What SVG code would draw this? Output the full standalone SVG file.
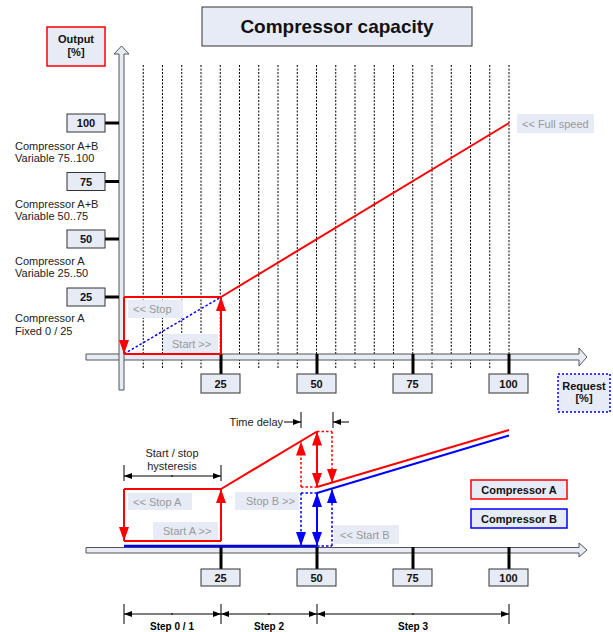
<svg xmlns="http://www.w3.org/2000/svg" width="613" height="632" viewBox="0 0 613 632">
<defs>
<style>
text{font-family:"Liberation Sans",Arial,sans-serif;}
.box{fill:#e6ebf5;stroke:#333;stroke-width:1;}
.num{font-size:11px;font-weight:bold;fill:#111;text-anchor:middle;}
.lbl{font-size:11px;fill:#222;}
.gray{fill:#e6ebf5;}
.gt{font-size:11px;fill:#999;}
.axis{fill:#e6ebf5;stroke:#555;stroke-width:1;}
.tick{stroke:#000;stroke-width:3;}
.grid{stroke:#000;stroke-width:1;stroke-dasharray:2 1.5;}
.red{stroke:#f00;stroke-width:2;fill:none;}
.redd{stroke:#f00;stroke-width:1.5;fill:none;stroke-dasharray:2.5 2;}
.blue{stroke:#00f;stroke-width:2;fill:none;}
.blued{stroke:#00f;stroke-width:1.5;fill:none;stroke-dasharray:2.5 2;}
.dim{stroke:#000;stroke-width:1;fill:none;}
.bold{font-weight:bold;}
</style>
<marker id="ar" markerUnits="userSpaceOnUse" markerWidth="14" markerHeight="10" refX="14" refY="5" orient="auto-start-reverse"><path d="M0,0 L14,5 L0,10 z" fill="#f00"/></marker>
<marker id="ab" markerUnits="userSpaceOnUse" markerWidth="14" markerHeight="10" refX="14" refY="5" orient="auto-start-reverse"><path d="M0,0 L14,5 L0,10 z" fill="#00f"/></marker>
<marker id="ak" markerUnits="userSpaceOnUse" markerWidth="8" markerHeight="6" refX="8" refY="3" orient="auto-start-reverse"><path d="M0,0 L8,3 L0,6 z" fill="#000"/></marker>
</defs>

<g id="title">
<rect x="202" y="7" width="270" height="39" class="box"/>
<text x="337" y="33" font-size="19" font-weight="bold" text-anchor="middle" fill="#111">Compressor capacity</text>
</g>

<g id="output-label">
<rect x="47" y="27" width="58" height="39" fill="#e6ebf5" stroke="#f00" stroke-width="1.5"/>
<text x="76" y="43" class="num">Output</text>
<text x="76" y="56" class="num">[%]</text>
</g>

<g id="request-label">
<rect x="558" y="374" width="52" height="38" fill="#e6ebf5" stroke="#00f" stroke-width="1.5" stroke-dasharray="2 2"/>
<text x="584" y="390" class="num">Request</text>
<text x="584" y="402" class="num">[%]</text>
</g>

<g id="grid">
<line x1="143.25" y1="65" x2="143.25" y2="368" class="grid"/>
<line x1="162.5" y1="65" x2="162.5" y2="368" class="grid"/>
<line x1="181.75" y1="65" x2="181.75" y2="368" class="grid"/>
<line x1="201" y1="65" x2="201" y2="368" class="grid"/>
<line x1="220.25" y1="65" x2="220.25" y2="368" class="grid"/>
<line x1="239.5" y1="65" x2="239.5" y2="368" class="grid"/>
<line x1="258.75" y1="65" x2="258.75" y2="368" class="grid"/>
<line x1="278" y1="65" x2="278" y2="368" class="grid"/>
<line x1="297.25" y1="65" x2="297.25" y2="368" class="grid"/>
<line x1="316.5" y1="65" x2="316.5" y2="368" class="grid"/>
<line x1="335.75" y1="65" x2="335.75" y2="368" class="grid"/>
<line x1="355" y1="65" x2="355" y2="368" class="grid"/>
<line x1="374.25" y1="65" x2="374.25" y2="368" class="grid"/>
<line x1="393.5" y1="65" x2="393.5" y2="368" class="grid"/>
<line x1="412.75" y1="65" x2="412.75" y2="368" class="grid"/>
<line x1="432" y1="65" x2="432" y2="368" class="grid"/>
<line x1="451.25" y1="65" x2="451.25" y2="368" class="grid"/>
<line x1="470.5" y1="65" x2="470.5" y2="368" class="grid"/>
<line x1="489.75" y1="65" x2="489.75" y2="368" class="grid"/>
<line x1="509" y1="65" x2="509" y2="368" class="grid"/>
</g>

<g id="x-axis-top">
<polygon points="86,354 579,354 579,348 587,357 579,366 579,360 86,360" class="axis"/>
<line x1="221" y1="354" x2="221" y2="374" class="tick"/>
<line x1="317" y1="354" x2="317" y2="374" class="tick"/>
<line x1="413" y1="354" x2="413" y2="374" class="tick"/>
<line x1="509" y1="354" x2="509" y2="374" class="tick"/>
<rect x="201" y="374" width="39" height="19" class="box"/><text x="220.5" y="387.5" class="num">25</text>
<rect x="297" y="374" width="39" height="19" class="box"/><text x="316.5" y="387.5" class="num">50</text>
<rect x="393" y="374" width="39" height="19" class="box"/><text x="412.5" y="387.5" class="num">75</text>
<rect x="489" y="374" width="39" height="19" class="box"/><text x="508.5" y="387.5" class="num">100</text>
</g>

<g id="y-axis">
<polygon points="119,390 119,54 114,54 121.5,46 129,54 124,54 124,390" class="axis"/>
<line x1="105" y1="123" x2="119" y2="123" class="tick"/>
<line x1="105" y1="181.5" x2="119" y2="181.5" class="tick"/>
<line x1="105" y1="239" x2="119" y2="239" class="tick"/>
<line x1="105" y1="297" x2="119" y2="297" class="tick"/>
<rect x="67" y="114" width="38" height="18" class="box"/><text x="86" y="127" class="num">100</text>
<rect x="67" y="172.5" width="38" height="18" class="box"/><text x="86" y="185.5" class="num">75</text>
<rect x="67" y="230" width="38" height="18" class="box"/><text x="86" y="243" class="num">50</text>
<rect x="67" y="288" width="38" height="18" class="box"/><text x="86" y="301" class="num">25</text>
<text x="15" y="150" class="lbl">Compressor A+B</text>
<text x="15" y="162" class="lbl">Variable 75..100</text>
<text x="15" y="207.5" class="lbl">Compressor A+B</text>
<text x="15" y="219.5" class="lbl">Variable 50..75</text>
<text x="15" y="264.5" class="lbl">Compressor A</text>
<text x="15" y="277" class="lbl">Variable 25..50</text>
<text x="15" y="322" class="lbl">Compressor A</text>
<text x="15" y="335" class="lbl">Fixed 0 / 25</text>
</g>

<g id="top-labels">
<rect x="128" y="300" width="55" height="18" class="gray"/><text x="133" y="313" class="gt">&lt;&lt; Stop</text>
<rect x="163" y="334" width="55" height="19" class="gray"/><text x="172" y="347.5" class="gt">Start &gt;&gt;</text>
<rect x="517" y="114" width="77" height="19" class="gray"/><text x="522" y="127.5" class="gt">&lt;&lt; Full speed</text>
</g>

<g id="connectors-top">
<line x1="124" y1="354" x2="221" y2="297" class="blued"/>
<path d="M124,297 H221" class="red"/>
<path d="M124,354 H221" class="red"/>
<line x1="124" y1="297" x2="124" y2="354" class="red" marker-end="url(#ar)"/>
<line x1="221" y1="354" x2="221" y2="297" class="red" marker-end="url(#ar)"/>
<line x1="221" y1="297" x2="509" y2="123" class="red"/>
</g>

<g id="x-axis-bottom">
<polygon points="86,547.5 579,547.5 579,543 587,550 579,557 579,553 86,553" class="axis"/>
<line x1="221" y1="547" x2="221" y2="569" class="tick"/>
<line x1="317" y1="547" x2="317" y2="569" class="tick"/>
<line x1="413" y1="547" x2="413" y2="569" class="tick"/>
<line x1="509" y1="547" x2="509" y2="569" class="tick"/>
<rect x="201" y="569" width="39" height="17" class="box"/><text x="220.5" y="581.5" class="num">25</text>
<rect x="297" y="569" width="39" height="17" class="box"/><text x="316.5" y="581.5" class="num">50</text>
<rect x="393" y="569" width="39" height="17" class="box"/><text x="412.5" y="581.5" class="num">75</text>
<rect x="489" y="569" width="39" height="17" class="box"/><text x="508.5" y="581.5" class="num">100</text>
</g>

<g id="bottom-labels">
<rect x="128" y="493" width="64" height="17" class="gray"/><text x="133" y="505.5" class="gt">&lt;&lt; Stop A</text>
<rect x="153" y="522" width="65" height="18" class="gray"/><text x="163" y="535" class="gt">Start A &gt;&gt;</text>
<rect x="235" y="492" width="64" height="18" class="gray"/><text x="246" y="505" class="gt">Stop B &gt;&gt;</text>
<rect x="334" y="525" width="65" height="19" class="gray"/><text x="340" y="538.5" class="gt">&lt;&lt; Start B</text>
</g>

<g id="legend-a">
<rect x="471" y="480" width="96" height="19" fill="#e6ebf5" stroke="#f00" stroke-width="1.5"/>
<text x="519" y="493.5" class="num">Compressor A</text>
</g>
<g id="legend-b">
<rect x="471" y="509" width="96" height="19" fill="#e6ebf5" stroke="#00f" stroke-width="1.5"/>
<text x="519" y="522.5" class="num">Compressor B</text>
</g>

<g id="annotations">
<text x="172" y="457" class="lbl" text-anchor="middle">Start / stop</text>
<text x="172" y="470" class="lbl" text-anchor="middle">hysteresis</text>
<line x1="124" y1="465" x2="124" y2="481" class="dim"/>
<line x1="221" y1="465" x2="221" y2="481" class="dim"/>
<line x1="124" y1="476" x2="221" y2="476" class="dim" marker-start="url(#ak)" marker-end="url(#ak)"/>
<line x1="172" y1="475" x2="172" y2="477" class="dim"/>
<text x="283" y="426" class="lbl" text-anchor="end">Time delay</text>
<line x1="301" y1="412" x2="301" y2="428" class="dim"/>
<line x1="333" y1="412" x2="333" y2="428" class="dim"/>
<line x1="284" y1="422" x2="301" y2="422" class="dim" marker-end="url(#ak)"/>
<line x1="349" y1="422" x2="333" y2="422" class="dim" marker-end="url(#ak)"/>
<line x1="124" y1="604" x2="124" y2="624" class="dim"/>
<line x1="221" y1="604" x2="221" y2="624" class="dim"/>
<line x1="317" y1="604" x2="317" y2="624" class="dim"/>
<line x1="509" y1="604" x2="509" y2="624" class="dim"/>
<line x1="124" y1="614" x2="221" y2="614" class="dim" marker-start="url(#ak)" marker-end="url(#ak)"/>
<line x1="221" y1="614" x2="317" y2="614" class="dim" marker-start="url(#ak)" marker-end="url(#ak)"/>
<line x1="317" y1="614" x2="509" y2="614" class="dim" marker-start="url(#ak)" marker-end="url(#ak)"/>
<line x1="172" y1="613" x2="172" y2="615" class="dim"/>
<line x1="269" y1="613" x2="269" y2="615" class="dim"/>
<line x1="413" y1="613" x2="413" y2="615" class="dim"/>
<text x="172" y="630" font-size="10" class="bold" text-anchor="middle">Step 0 / 1</text>
<text x="269" y="630" font-size="10" class="bold" text-anchor="middle">Step 2</text>
<text x="413" y="630" font-size="10" class="bold" text-anchor="middle">Step 3</text>
</g>

<g id="connectors-bottom">
<line x1="124" y1="546" x2="317" y2="546" stroke="#00f" stroke-width="2.5"/>
<path d="M124,541 H221" class="red"/>
<path d="M124,489 H221" class="red"/>
<line x1="124" y1="489" x2="124" y2="541" class="red" marker-end="url(#ar)"/>
<line x1="221" y1="541" x2="221" y2="489" class="red" marker-end="url(#ar)"/>
<line x1="221" y1="489" x2="317" y2="431.5" class="red"/>
<path d="M317,487 H301" class="redd"/>
<line x1="301" y1="487" x2="301" y2="441.5" class="redd" marker-end="url(#ar)"/>
<path d="M317,431.5 H332" class="redd"/>
<line x1="332" y1="431.5" x2="332" y2="483" class="redd" marker-end="url(#ar)"/>
<line x1="317" y1="431.5" x2="317" y2="487" class="red" marker-start="url(#ar)" marker-end="url(#ar)"/>
<line x1="317" y1="487" x2="509" y2="430" class="red"/>
<line x1="317" y1="493" x2="509" y2="435.5" class="blue"/>
<path d="M317,493 H301" class="blued"/>
<line x1="301" y1="493" x2="301" y2="546" class="blued" marker-end="url(#ab)"/>
<path d="M317,546 H332" class="blued"/>
<line x1="332" y1="546" x2="332" y2="489" class="blued" marker-end="url(#ab)"/>
<line x1="317" y1="493" x2="317" y2="546" class="blue" marker-start="url(#ab)" marker-end="url(#ab)"/>
</g>
</svg>
